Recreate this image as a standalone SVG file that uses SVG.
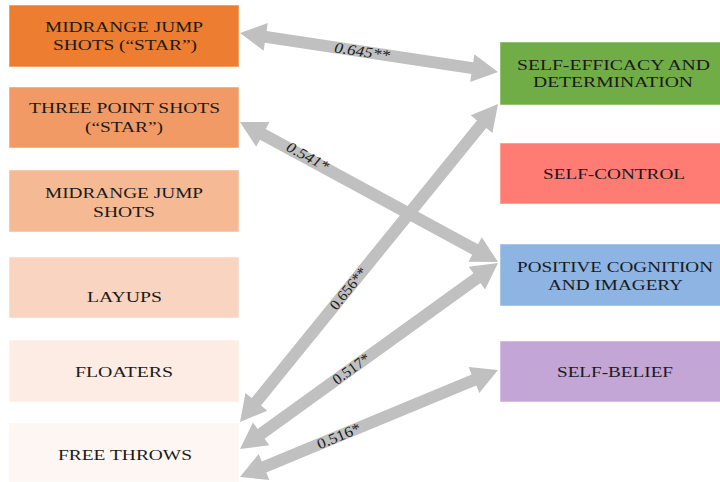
<svg xmlns="http://www.w3.org/2000/svg" width="720" height="482" viewBox="0 0 720 482">
<style>
.box{stroke:#ffffff;stroke-opacity:0.5;stroke-width:1}
.t{font-family:'Liberation Serif','DejaVu Serif','Times New Roman',serif;font-size:15px;fill:#1a1a1a;text-anchor:middle}
.arr{fill:#C0C0C0}
.lbl{font-family:'Liberation Serif','DejaVu Serif','Times New Roman',serif;font-size:15px;fill:#1a1a1a;text-anchor:middle}
</style>
<rect width="720" height="482" fill="#ffffff"/>
<g id="n-midrange-star" font-family="Liberation Serif, DejaVu Serif, serif">
<rect class="box" x="9" y="5" width="230" height="62" fill="#ED7D31"/>
<text class="t" x="124" y="32" textLength="158" lengthAdjust="spacingAndGlyphs">MIDRANGE JUMP</text>
<text class="t" x="125" y="50" textLength="144" lengthAdjust="spacingAndGlyphs">SHOTS (“STAR”)</text>
</g>
<g id="n-three-star" font-family="Liberation Serif, DejaVu Serif, serif">
<rect class="box" x="9" y="87" width="230" height="61" fill="#F19A65"/>
<text class="t" x="124.5" y="113" textLength="191" lengthAdjust="spacingAndGlyphs">THREE POINT SHOTS</text>
<text class="t" x="124" y="131.5" textLength="78" lengthAdjust="spacingAndGlyphs">(“STAR”)</text>
</g>
<g id="n-midrange" font-family="Liberation Serif, DejaVu Serif, serif">
<rect class="box" x="9" y="170" width="230" height="62" fill="#F5B994"/>
<text class="t" x="124" y="198" textLength="158" lengthAdjust="spacingAndGlyphs">MIDRANGE JUMP</text>
<text class="t" x="124" y="216.5" textLength="62" lengthAdjust="spacingAndGlyphs">SHOTS</text>
</g>
<g id="n-layups" font-family="Liberation Serif, DejaVu Serif, serif">
<rect class="box" x="9" y="257" width="230" height="61" fill="#F9D4C0"/>
<text class="t" x="124.5" y="301.5" textLength="75" lengthAdjust="spacingAndGlyphs">LAYUPS</text>
</g>
<g id="n-floaters" font-family="Liberation Serif, DejaVu Serif, serif">
<rect class="box" x="9" y="340" width="230" height="62" fill="#FCECE4"/>
<text class="t" x="124" y="376.5" textLength="98" lengthAdjust="spacingAndGlyphs">FLOATERS</text>
</g>
<g id="n-freethrows" font-family="Liberation Serif, DejaVu Serif, serif">
<rect class="box" x="9" y="423" width="230" height="59" fill="#FDF6F2"/>
<text class="t" x="125" y="460" textLength="134" lengthAdjust="spacingAndGlyphs">FREE THROWS</text>
</g>
<g id="n-selfefficacy" font-family="Liberation Serif, DejaVu Serif, serif">
<rect class="box" x="500" y="42" width="222" height="63" fill="#70AD47"/>
<text class="t" x="613.5" y="69.5" textLength="193" lengthAdjust="spacingAndGlyphs">SELF-EFFICACY AND</text>
<text class="t" x="613" y="87" textLength="160" lengthAdjust="spacingAndGlyphs">DETERMINATION</text>
</g>
<g id="n-selfcontrol" font-family="Liberation Serif, DejaVu Serif, serif">
<rect class="box" x="500" y="143" width="222" height="61" fill="#FF7C75"/>
<text class="t" x="614" y="178.5" textLength="142" lengthAdjust="spacingAndGlyphs">SELF-CONTROL</text>
</g>
<g id="n-positive" font-family="Liberation Serif, DejaVu Serif, serif">
<rect class="box" x="500" y="244" width="222" height="62" fill="#8DB4E2"/>
<text class="t" x="615" y="272" textLength="196" lengthAdjust="spacingAndGlyphs">POSITIVE COGNITION</text>
<text class="t" x="615.5" y="290" textLength="135" lengthAdjust="spacingAndGlyphs">AND IMAGERY</text>
</g>
<g id="n-selfbelief" font-family="Liberation Serif, DejaVu Serif, serif">
<rect class="box" x="500" y="341" width="222" height="61" fill="#C3A6D6"/>
<text class="t" x="615" y="376.5" textLength="116" lengthAdjust="spacingAndGlyphs">SELF-BELIEF</text>
</g>
<g id="connectors" font-family="Liberation Serif, DejaVu Serif, serif">
<g transform="translate(240,33) rotate(8.6)">
<polygon class="arr" points="0,0 26,-14 26,-6 234.9,-6 234.9,-14 260.9,0 234.9,14 234.9,6 26,6 26,14"/>
<text class="lbl" x="123.5" y="5" font-style="italic" textLength="56" lengthAdjust="spacingAndGlyphs">0.645**</text>
</g>
<g transform="translate(240,122) rotate(28.48)">
<polygon class="arr" points="0,0 26,-14 26,-6 267.5,-6 267.5,-14 293.5,0 267.5,14 267.5,6 26,6 26,14"/>
<text class="lbl" x="76" y="3" font-style="italic" textLength="46" lengthAdjust="spacingAndGlyphs">0.541*</text>
</g>
<g transform="translate(240,422) rotate(-50.95)">
<polygon class="arr" points="0,0 26,-14 26,-6 383.5,-6 383.5,-14 409.5,0 383.5,14 383.5,6 26,6 26,14"/>
<text class="lbl" x="172" y="5" textLength="50" lengthAdjust="spacingAndGlyphs">0.656**</text>
</g>
<g transform="translate(240,449) rotate(-35.79)">
<polygon class="arr" points="0,0 26,-14 26,-6 292.1,-6 292.1,-14 318.1,0 292.1,14 292.1,6 26,6 26,14"/>
<text class="lbl" x="137" y="5" textLength="42" lengthAdjust="spacingAndGlyphs">0.517*</text>
</g>
<g transform="translate(240,477) rotate(-22.53)">
<polygon class="arr" points="0,0 26,-14 26,-6 253.3,-6 253.3,-14 279.3,0 253.3,14 253.3,6 26,6 26,14"/>
<text class="lbl" x="107" y="5" textLength="46" lengthAdjust="spacingAndGlyphs">0.516*</text>
</g>
</g>
</svg>
